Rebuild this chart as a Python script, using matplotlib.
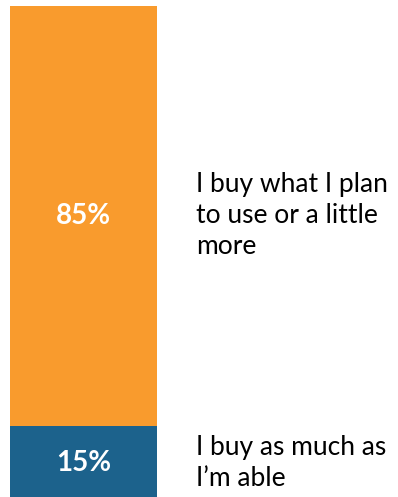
import matplotlib
matplotlib.use("Agg")
import matplotlib.pyplot as plt

plt.rcParams["font.family"] = ["Lato", "DejaVu Sans"]

labels = ["I buy as much as\nI\u2019m able", "I buy what I plan\nto use or a little\nmore"]
shares = [15, 85]
colors = ["#1C628C", "#F99B2D"]

W, H = 398, 497
fig = plt.figure(figsize=(W / 100, H / 100), dpi=100)
# bar column runs slightly past the bottom edge
ax = fig.add_axes([10 / W, -3 / H, 147 / W, 494 / H])
ax.set_xlim(0, 1)
ax.set_ylim(0, sum(shares))
ax.axis("off")

bottom = 0
for lab, val, col in zip(labels, shares, colors):
    ax.bar(0.5, val, width=1.0, bottom=bottom, color=col, edgecolor="none")
    mid = bottom + val / 2
    ax.text(0.5, mid, f"{val}%", ha="center", va="center",
            color="white", fontsize=20, fontweight="bold")
    ax.annotate(lab, xy=(1.0, mid), xycoords="data",
                xytext=(196 / W, 0), textcoords=("figure fraction", "offset points"),
                ha="left", va="center", fontsize=19, color="black",
                linespacing=1.3, annotation_clip=False)
    bottom += val

fig.savefig("out.png", dpi=100)
